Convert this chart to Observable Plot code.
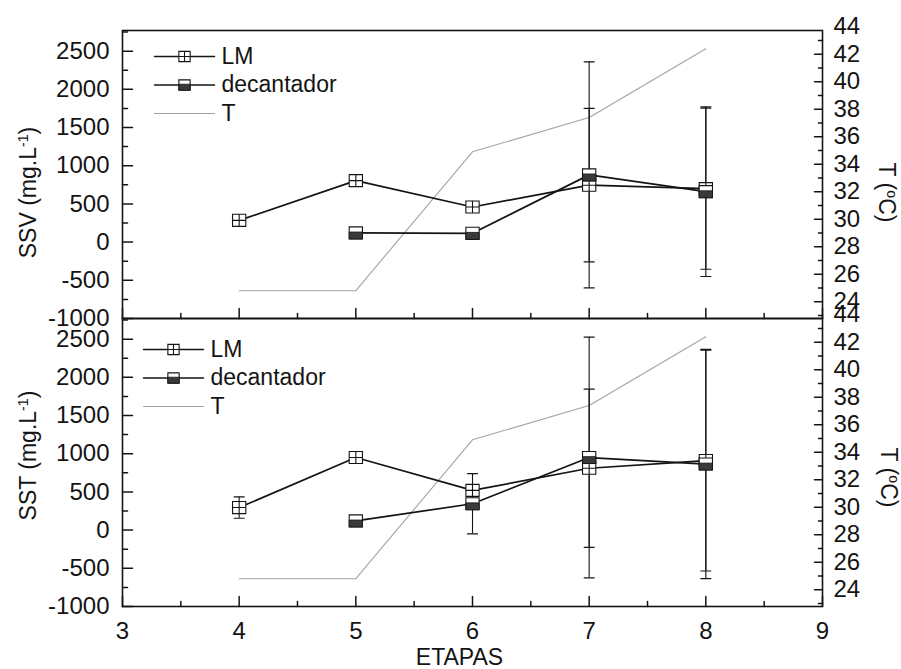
<!DOCTYPE html>
<html>
<head>
<meta charset="utf-8">
<script src="https://cdn.jsdelivr.net/npm/d3@7"></script>
<script src="https://cdn.jsdelivr.net/npm/@observablehq/plot@0.6"></script>
<style>
  html, body { margin: 0; padding: 0; background: #fff; }
  #chart { width: 901px; height: 669px; }
</style>
</head>
<body>
<div id="chart"></div>
<script>
// ---- data -------------------------------------------------------------
const etapas = [4, 5, 6, 7, 8];
const temperatura = [24.8, 24.8, 34.9, 37.4, 42.4];   // T (°C), same in both panels

// SSV (mg/L)
const ssvLM      = [285, 805, 460, 745, 700];
const ssvLMErr   = [0, 0, 40, 1005, 1055];
const ssvDec     = [null, 120, 115, 880, 660];
const ssvDecErr  = [null, 0, 0, 1480, 1110];

// SST (mg/L)
const sstLM      = [295, 950, 520, 810, 910];
const sstLMErr   = [140, 0, 50, 1035, 1445];
const sstDec     = [null, 120, 345, 950, 865];
const sstDecErr  = [null, 0, 395, 1575, 1500];

const panels = ["SSV", "SST"];
const xTicks = [3, 4, 5, 6, 7, 8, 9];
const yTicks = [-1000, -500, 0, 500, 1000, 1500, 2000, 2500];
const tTicks = [24, 26, 28, 30, 32, 34, 36, 38, 40, 42, 44];
const legendLabels = ["LM", "decantador", "T"];

// ---- helpers ----------------------------------------------------------
// The temperature axis shares the mg/L scale through a linear map.
const T_BASE = 24, T_BASE_AT = -780, T_UNIT = 180;
const yT = t => T_BASE_AT + (t - T_BASE) * T_UNIT;
const tFromY = v => Math.round((v - T_BASE_AT) / T_UNIT + T_BASE);

const INK = "#141414";
const GREY = "#a3a3a3";
const DARK_FILL = "#3a3a3a";

const rows = [];
function addSeries(panel, serie, vals, errs) {
  etapas.forEach((e, i) => {
    if (vals[i] == null) return;
    rows.push({panel, serie, etapa: e, valor: vals[i], erro: errs[i]});
  });
}
addSeries("SSV", "LM", ssvLM, ssvLMErr);
addSeries("SSV", "decantador", ssvDec, ssvDecErr);
addSeries("SST", "LM", sstLM, sstLMErr);
addSeries("SST", "decantador", sstDec, sstDecErr);

const tempRows = panels.flatMap(panel =>
  etapas.map((e, i) => ({panel, etapa: e, t: temperatura[i]})));

const errRows = rows.filter(d => d.erro > 0);
const capRows = errRows.flatMap(d => [
  {...d, cap: d.valor - d.erro}, {...d, cap: d.valor + d.erro}]);

// plain stroke used for ticks, caps and legend samples (no arrowhead)
const bar = {draw(ctx, l) { ctx.moveTo(0, 0); ctx.lineTo(0, -l); }};

// Marker shapes (slightly wider than tall)
const ASPECT = 1.1;
const boxPath = (ctx, w, h) => {
  ctx.moveTo(-w, -h); ctx.lineTo(w, -h); ctx.lineTo(w, h); ctx.lineTo(-w, h); ctx.closePath();
};
const squareSym = {draw(ctx, size) { const h = Math.sqrt(size) / 2; boxPath(ctx, h * ASPECT, h); }};
const crossSym = {draw(ctx, size) {
  const h = Math.sqrt(size) / 2, w = h * ASPECT;
  boxPath(ctx, w, h);
  ctx.moveTo(0, -h); ctx.lineTo(0, h);
  ctx.moveTo(-w, 0); ctx.lineTo(w, 0);
}};
const lowerSym = {draw(ctx, size) {
  const h = Math.sqrt(size) / 2, w = h * ASPECT, top = -0.15 * h;
  ctx.moveTo(-w, top); ctx.lineTo(w, top); ctx.lineTo(w, h); ctx.lineTo(-w, h); ctx.closePath();
}};
const R = 6.8;

// ---- marks ------------------------------------------------------------
const range = (a, b, s) => d3.range(a, b + s / 2, s);
const yMinor = range(-750, 2750, 500);
const tMajorIn = tTicks.filter(t => t <= 43);
const tMinor = range(23, 43, 2);
const xMinor = range(3.5, 8.5, 1);

// inward ticks, one set per panel
const tickRows = (values, key) => panels.flatMap(panel => values.map(v => ({panel, [key]: v})));
const tick = (data, opts) => Plot.vector(data, {fy: "panel", shape: bar, anchor: "start", stroke: INK, strokeWidth: 1.5, ...opts});

const marks = [
  tick(tickRows(yTicks, "y"), {y: "y", frameAnchor: "left", rotate: 90, length: 10}),
  tick(tickRows(yMinor, "y"), {y: "y", frameAnchor: "left", rotate: 90, length: 5}),
  tick(tickRows(tMajorIn.map(yT), "y"), {y: "y", frameAnchor: "right", rotate: -90, length: 8}),
  tick(tickRows(tMinor.map(yT), "y"), {y: "y", frameAnchor: "right", rotate: -90, length: 4}),
  tick(tickRows(xTicks, "x"), {x: "x", frameAnchor: "bottom", rotate: 0, length: 10}),
  tick(tickRows(xMinor, "x"), {x: "x", frameAnchor: "bottom", rotate: 0, length: 5}),

  // axis labels
  Plot.axisY({ticks: yTicks, tickSize: 0, tickPadding: 13, tickFormat: d => String(d), label: null, fontSize: 24}),
  Plot.axisY({anchor: "right", ticks: tTicks.map(yT), tickSize: 0, tickPadding: 11, tickFormat: v => String(tFromY(v)), label: null, fontSize: 24}),
  Plot.axisX({ticks: xTicks, tickSize: 0, tickPadding: 15, tickFormat: d => String(d), label: null, fontSize: 24}),

  // temperature
  Plot.line(tempRows, {x: "etapa", y: d => yT(d.t), fy: "panel", stroke: GREY, strokeWidth: 1.1}),

  // series lines
  Plot.line(rows, {x: "etapa", y: "valor", z: "serie", fy: "panel", stroke: INK, strokeWidth: 1.7}),

  // error bars
  Plot.ruleX(errRows, {x: "etapa", y1: d => d.valor - d.erro, y2: d => d.valor + d.erro, fy: "panel", stroke: INK, strokeWidth: 1.1}),
  Plot.vector(capRows, {x: "etapa", y: "cap", fy: "panel", shape: bar, rotate: 90, length: 10, anchor: "middle", stroke: INK, strokeWidth: 1.2}),

  // markers
  Plot.dot(rows.filter(d => d.serie === "LM"), {x: "etapa", y: "valor", fy: "panel", symbol: crossSym, r: R, fill: "white", stroke: INK, strokeWidth: 1.1}),
  Plot.dot(rows.filter(d => d.serie === "decantador"), {x: "etapa", y: "valor", fy: "panel", symbol: squareSym, r: R, fill: "white", stroke: INK, strokeWidth: 1.1}),
  Plot.dot(rows.filter(d => d.serie === "decantador"), {x: "etapa", y: "valor", fy: "panel", symbol: lowerSym, r: R, fill: DARK_FILL, stroke: INK, strokeWidth: 0.8}),

  Plot.frame({stroke: INK, strokeWidth: 1.6}),

  // axis titles
  Plot.text([{panel: "SSV"}], {fy: "panel", text: () => "SSV (mg.L-1)", frameAnchor: "left", textAnchor: "middle", lineAnchor: "middle", dx: -94, dy: 18, rotate: -90, fontSize: 23, fill: INK}),
  Plot.text([{panel: "SST"}], {fy: "panel", text: () => "SST (mg.L-1)", frameAnchor: "left", textAnchor: "middle", lineAnchor: "middle", dx: -94, dy: -7, rotate: -90, fontSize: 23, fill: INK}),
  Plot.text([{panel: "SSV"}], {fy: "panel", text: () => "T (oC)", frameAnchor: "right", textAnchor: "middle", lineAnchor: "middle", dx: 64, dy: 18, rotate: 90, fontSize: 23, fill: INK}),
  Plot.text([{panel: "SST"}], {fy: "panel", text: () => "T (oC)", frameAnchor: "right", textAnchor: "middle", lineAnchor: "middle", dx: 66, dy: 15, rotate: 90, fontSize: 23, fill: INK}),
  Plot.text([{panel: "SST"}], {fy: "panel", text: () => "ETAPAS", frameAnchor: "bottom", textAnchor: "middle", lineAnchor: "middle", dx: -13, dy: 51, fontSize: 23, fill: INK})
];

// legend inside each panel
const legendPos = {SSV: {dx: 32, dy: 26}, SST: {dx: 21, dy: 31}};
const ROW_GAP = 28.5;
panels.forEach(panel => {
  const {dx, dy} = legendPos[panel];
  legendLabels.forEach((label, i) => {
    const y = dy + i * ROW_GAP;
    const datum = [{panel}];
    const isT = label === "T";
    marks.push(Plot.vector(datum, {fy: "panel", frameAnchor: "top-left", dx, dy: y, shape: bar, rotate: 90, length: 60, anchor: "start",
      stroke: isT ? GREY : INK, strokeWidth: isT ? 1.1 : 1.5}));
    if (label === "LM") {
      marks.push(Plot.dot(datum, {fy: "panel", frameAnchor: "top-left", dx: dx + 30, dy: y, symbol: crossSym, r: R * 0.85, fill: "white", stroke: INK, strokeWidth: 1.1}));
    } else if (label === "decantador") {
      marks.push(Plot.dot(datum, {fy: "panel", frameAnchor: "top-left", dx: dx + 30, dy: y, symbol: squareSym, r: R * 0.85, fill: "white", stroke: INK, strokeWidth: 1.1}));
      marks.push(Plot.dot(datum, {fy: "panel", frameAnchor: "top-left", dx: dx + 30, dy: y, symbol: lowerSym, r: R * 0.85, fill: DARK_FILL, stroke: INK, strokeWidth: 0.8}));
    }
    marks.push(Plot.text(datum, {fy: "panel", frameAnchor: "top-left", dx: dx + 67, dy: y, text: () => label, textAnchor: "start", lineAnchor: "middle", fontSize: 23, fill: INK}));
  });
});

const chart = Plot.plot({
  width: 901,
  height: 669,
  marginTop: 29,
  marginBottom: 63,
  marginLeft: 122,
  marginRight: 79,
  x: {domain: [3, 9]},
  y: {domain: [-1000, 2770]},
  fy: {domain: panels, padding: 0, axis: null},
  style: {fontFamily: "'Liberation Sans', Arial, sans-serif", fontSize: "24px", color: INK, background: "white", overflow: "visible"},
  marks
});

// superscripts in the axis titles
const sup = {"SSV (mg.L-1)": ["SSV (mg.L", "-1", ")"], "SST (mg.L-1)": ["SST (mg.L", "-1", ")"], "T (oC)": ["T (", "o", "C)"]};
d3.select(chart).selectAll("text").each(function () {
  const parts = sup[this.textContent];
  if (!parts) return;
  const t = d3.select(this);
  t.text(null);
  t.append("tspan").text(parts[0]);
  t.append("tspan").attr("baseline-shift", "super").attr("font-size", "0.62em").text(parts[1]);
  t.append("tspan").text(parts[2]);
});

document.getElementById("chart").appendChild(chart);
</script>
</body>
</html>
